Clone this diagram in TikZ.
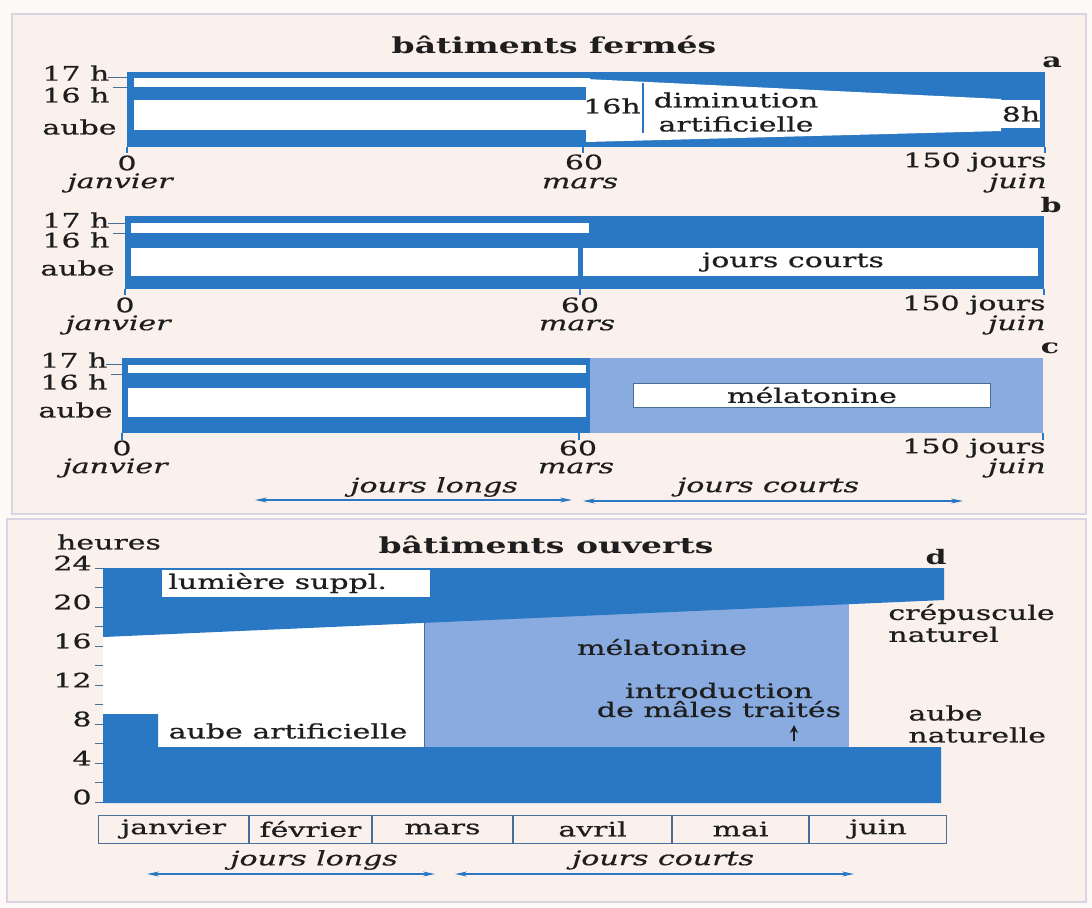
\documentclass[tikz,border=0pt]{standalone}
\usepackage{fontspec}
\setmainfont{DejaVu Serif}[FakeStretch=1.5, UprightFeatures={FakeBold=0.6}, ItalicFeatures={FakeBold=0.5}]
\usetikzlibrary{arrows.meta,positioning}
\definecolor{barblue}{HTML}{2A78C3}
\definecolor{melblue}{HTML}{89ABE0}
\definecolor{papertint}{HTML}{FBF1EC}
\definecolor{paperedge}{HTML}{D9D4E2}
\definecolor{inkdark}{HTML}{1E1E1E}
\definecolor{rulegray}{HTML}{4A6F96}

\begin{document}
\begin{tikzpicture}[
  x=0.5pt, y=-0.5pt,
  lbl/.style={text=inkdark, inner sep=0pt},
  ital/.style={lbl, font=\itshape},
  tag/.style={lbl, font=\bfseries},
  headline/.style={lbl, font=\bfseries\fontsize{11}{13}\selectfont},
  span/.style={barblue, line width=0.75pt, {Stealth[length=6pt,width=2.5pt]}-{Stealth[length=6pt,width=2.5pt]}},
  hairline/.style={rulegray, line width=0.5pt},
  monthbox/.style={draw=rulegray, line width=0.5pt, minimum height=14pt, inner sep=0pt, text=inkdark}
]
\useasboundingbox (0,0) rectangle (1092,907);
\fill[white!60!papertint] (0,0) rectangle (1092,907);

% Paper panels
\draw[paperedge, line width=1pt, fill=papertint] (12,14) rectangle (1086,514);
\draw[paperedge, line width=1pt, fill=papertint] (7,519) rectangle (1086,902);

% ---- a : closed buildings, artificial decrease
\node[headline] (titleA) at (554,45) {bâtiments fermés};
\node[tag] (tagA) at (1052,62) {a};
\fill[barblue] (127,72) rectangle (1045,147);
\fill[white] (134,78) rectangle (590,87);
\fill[white] (134,100) rectangle (586,130);
\fill[white] (586,79) -- (1001,99) -- (1001,131) -- (586,142) -- cycle;
\fill[white] (1001,100) rectangle (1040,128);
\draw[barblue, line width=1pt] (643,83) -- (643,133);
\node[lbl] (sixteenA) at (612,106) {16h};
\node[lbl, align=center] (dimA) at (736,112) {diminution\\artificielle};
\node[lbl] (eightA) at (1021,114) {8h};
\node[lbl, anchor=west] (h17A) at (42,73) {17 h};
\node[lbl, anchor=west] (h16A) at (42,95) {16 h};
\node[lbl, anchor=west] (aubeA) at (42,127) {aube};
\draw[hairline] (108,77) -- (127,77);
\draw[hairline] (113,87) -- (127,87);
\draw[barblue, line width=0.75pt] (127,147) -- (127,153) (583,147) -- (583,153) (1045,147) -- (1045,153);
\node[lbl] (zeroA) at (127,163) {0};
\node[ital] (janA) at (120,183) {janvier};
\node[lbl] (sixtyA) at (584,162) {60};
\node[ital] (marsA) at (580,183) {mars};
\node[lbl, anchor=east] (endA) at (1047,162) {150 jours};
\node[ital, anchor=east] (juinA) at (1047,183) {juin};

% ---- b : closed buildings, short days
\node[tag] (tagB) at (1051,205) {b};
\fill[barblue] (125,216) rectangle (1044,289);
\fill[white] (131,223) rectangle (589,233);
\fill[white] (131,248) rectangle (578,276);
\fill[white] (583,248) rectangle (1038,276);
\node[lbl] (courtsB) at (793,262) {jours courts};
\node[lbl, anchor=west] (h17B) at (42,220) {17 h};
\node[lbl, anchor=west] (h16B) at (42,240) {16 h};
\node[lbl, anchor=west] (aubeB) at (40,268) {aube};
\draw[hairline] (108,223) -- (125,223);
\draw[hairline] (113,233) -- (125,233);
\draw[barblue, line width=0.75pt] (125,289) -- (125,295) (580,289) -- (580,295) (1044,289) -- (1044,295);
\node[lbl] (zeroB) at (125,305) {0};
\node[ital] (janB) at (118,325) {janvier};
\node[lbl] (sixtyB) at (580,305) {60};
\node[ital] (marsB) at (577,325) {mars};
\node[lbl, anchor=east] (endB) at (1046,305) {150 jours};
\node[ital, anchor=east] (juinB) at (1046,325) {juin};

% ---- c : closed buildings, melatonin
\node[tag] (tagC) at (1050,348) {c};
\fill[barblue] (122,358) rectangle (590,433);
\fill[melblue] (590,358) rectangle (1043,433);
\fill[white] (128,365) rectangle (586,373);
\fill[white] (128,388) rectangle (586,417);
\node[lbl, draw=rulegray, line width=0.5pt, fill=white, minimum width=178.5pt, minimum height=12pt] (melC) at (812,395) {mélatonine};
\node[lbl, anchor=west] (h17C) at (40,360) {17 h};
\node[lbl, anchor=west] (h16C) at (40,382) {16 h};
\node[lbl, anchor=west] (aubeC) at (38,410) {aube};
\draw[hairline] (106,364) -- (122,364);
\draw[hairline] (111,374) -- (122,374);
\draw[barblue, line width=0.75pt] (122,433) -- (122,440) (579,433) -- (579,440) (1043,433) -- (1043,440);
\node[lbl] (zeroC) at (122,448) {0};
\node[ital] (janC) at (115,468) {janvier};
\node[lbl] (sixtyC) at (578,448) {60};
\node[ital] (marsC) at (576,468) {mars};
\node[lbl, anchor=east] (endC) at (1046,448) {150 jours};
\node[ital, anchor=east] (juinC) at (1046,468) {juin};

% long days / short days spans
\node[ital] (longsC) at (434,487) {jours longs};
\node[ital] (courtsC) at (768,487) {jours courts};
\coordinate (lgA) at (255,500);
\coordinate (lgB) at (572,500);
\coordinate (ctA) at (583,501);
\coordinate (ctB) at (963,501);
\draw[span] (lgA) -- (lgB);
\draw[span] (ctA) -- (ctB);

% ---- d : open buildings
\node[lbl] (heures) at (109,542) {heures};
\node[headline] (titleD) at (546,545) {bâtiments ouverts};
\node[tag] (tagD) at (936,557) {d};
\fill[white] (103,600) rectangle (424,747);
\fill[melblue] (424,600) rectangle (849,747);
\draw[rulegray, line width=0.5pt] (424,622) -- (424,747);
\fill[barblue] (103,568) -- (944,568) -- (944,600) -- (103,637) -- cycle;
\fill[barblue] (103,714) -- (158,714) -- (158,747) -- (941,747) -- (941,803) -- (103,803) -- cycle;
\fill[white] (162,570) rectangle (430,597);
\node[lbl, anchor=west] (supplD) at (168,583) {lumière suppl.};

% hour axis
\foreach \h in {0,2,...,24}
  \draw[hairline] (95,{802-9.75*\h}) -- (103,{802-9.75*\h});
\foreach \h in {0,4,...,24}
  \node[lbl, anchor=east] at (92,{797-9.75*\h}) {\h};

\node[lbl] (aubeArt) at (288,731) {aube artificielle};
\node[lbl] (melD) at (662,647) {mélatonine};
\node[lbl, align=center] (males) at (719,700) {introduction\\[-2.5pt]de mâles traités};
\coordinate (arrTail) at (794,741);
\coordinate (arrTip) at (794,725);
\draw[inkdark, line width=1.2pt, -{Stealth[length=4pt,width=4pt]}] (arrTail) -- (arrTip);
\node[lbl, align=left, anchor=west] (crep) at (888,623) {crépuscule\\[-1pt]naturel};
\node[lbl, align=left, anchor=west] (aubeNat) at (908,724) {aube\\[-1pt]naturelle};

% months
\node[monthbox, minimum width=75pt, anchor=west] (jan) at (98,829) {janvier};
\node[monthbox, minimum width=61pt, right=0pt of jan] (feb) {février};
\node[monthbox, minimum width=70pt, right=0pt of feb] (mar) {mars};
\node[monthbox, minimum width=79pt, right=0pt of mar] (apr) {avril};
\node[monthbox, minimum width=68pt, right=0pt of apr] (may) {mai};
\node[monthbox, minimum width=68.5pt, right=0pt of may] (jun) {juin};

\node[ital] (longsD) at (314,860) {jours longs};
\node[ital] (courtsD) at (663,860) {jours courts};
\coordinate (lgC) at (147,874);
\coordinate (lgD) at (435,874);
\coordinate (ctC) at (455,874);
\coordinate (ctD) at (854,874);
\draw[span] (lgC) -- (lgD);
\draw[span] (ctC) -- (ctD);

\end{tikzpicture}
\end{document}
